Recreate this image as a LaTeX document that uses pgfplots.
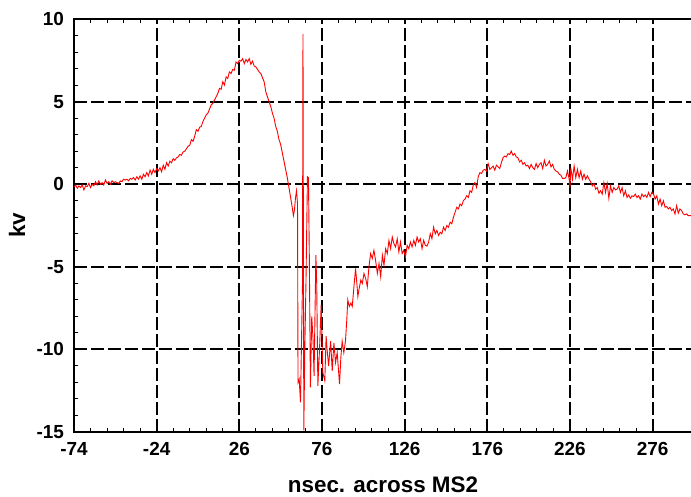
\documentclass[border=0pt]{standalone}
\usepackage{fontspec}
\setmainfont{Liberation Sans}
\usepackage{pgfplots}
\pgfplotsset{compat=1.18}

\begin{document}
\begin{tikzpicture}
\begin{axis}[
  scale only axis, width=618bp, height=413bp,
  xmin=-74, xmax=299.8, ymin=-15, ymax=10,
  xtick={-74,-24,26,76,126,176,226,276},
  ytick={-15,-10,-5,0,5,10},
  minor x tick num=4, minor y tick num=4,
  xtick pos=both, ytick pos=left,
  tick align=inside,
  major tick length=5bp, minor tick length=4bp,
  tick style={black, line width=1bp},
  axis line style={black, line width=2bp},
  grid=major,
  major grid style={black, line width=2bp, dash pattern=on 13bp off 4bp},
  /pgf/number format/assume math mode=true,
  ticklabel style={font=\fontsize{19}{19}\selectfont\bfseries},
  xticklabel style={yshift=-6.5bp},
  yticklabel style={xshift=-6.5bp},
  xlabel={nsec. across MS2}, ylabel={kv},
  label style={font=\fontsize{22.5}{22.5}\selectfont\bfseries},
  xlabel style={at={(axis description cs:0.5,-0.1465)}, anchor=base},
  ylabel style={at={(axis description cs:-0.0922,0.5)}, anchor=center},
]
\addplot[red, line width=0.9bp, mark=none] table {
x y
-74 -0.15
-73 -0.05
-72 -0.25
-71 -0.1
-70 -0.2
-69 -0.05
-68 -0.35
-67 -0.1
-66 -0.15
-65 0.05
-64 -0.2
-63 0.0
-62 -0.1
-61 0.15
-60 -0.05
-59 0.2
-58 0.0
-57 0.1
-56 -0.05
-55 0.25
-54 0.05
-53 0.15
-52 0.0
-51 0.2
-50 0.1
-49 0.15
-48 0.1
-47 0.05
-46 0.2
-45 0.15
-44 0.3
-43 0.25
-42 0.3
-41 0.2
-40 0.35
-39 0.3
-38 0.4
-37 0.25
-36 0.45
-35 0.3
-34 0.5
-33 0.3
-32 0.6
-31 0.45
-30 0.7
-29 0.5
-28 0.85
-27 0.6
-26 0.9
-25 0.7
-24 0.95
-23 0.8
-22 1.0
-21 0.75
-20 1.15
-19 0.9
-18 1.3
-17 1.1
-16 1.4
-15 1.3
-14 1.55
-13 1.45
-12 1.6
-11 1.65
-10 1.8
-9 1.75
-8 1.95
-7 2.0
-6 2.15
-5 2.3
-4 2.35
-3 2.7
-2 2.6
-1 2.9
0 3.3
1 3.2
2 3.45
3 3.5
4 3.8
5 4.0
6 4.2
7 4.3
8 4.55
9 4.8
10 4.9
11 5.1
12 5.3
13 5.5
14 5.8
15 5.75
16 6.2
17 6.0
18 6.5
19 6.4
20 6.8
21 6.7
22 6.95
23 6.9
24 7.4
25 7.3
26 7.5
27 7.45
28 7.6
29 7.3
30 7.55
31 7.4
32 7.6
33 7.25
34 7.45
35 7.15
36 7.1
37 6.95
38 6.8
39 6.7
40 6.45
41 6.2
42 5.6
43 5.3
44 5.0
45 4.7
46 4.3
47 4.0
48 3.5
49 3.2
50 2.7
51 2.4
52 1.9
53 1.4
54 0.9
55 0.4
56 -0.2
57 -0.8
58 -1.4
58.7 -1.9
59.3 -1.6
60 -0.8
60.6 -0.4
61.2 -1.2
61.5 -12.0
62.2 -11.8
63 -13.2
64.2 -6.0
64.5 9.1
65 -14.9
65.6 -10.0
66.3 -6.0
67.2 0.45
67.8 0.4
68.3 -4.0
69 -12.3
69.8 -8.0
70.6 -9.4
71.2 -11.6
72.3 -4.3
72.8 -6.0
73.5 -12.2
74.5 -10.0
75.5 -7.3
76.5 -11.4
77.7 -11.9
78.5 -9.2
79 -9.9
80 -11.0
81.2 -9.5
82.2 -11.3
83.2 -9.6
84.2 -10.8
85.2 -10.2
86.6 -12.1
87.4 -10.5
88.2 -9.5
89.2 -10.2
90.2 -9.5
91 -8.2
91.6 -7.0
92.5 -7.4
93.5 -7.2
94.3 -7.4
95.5 -6.0
96.3 -5.1
97 -5.9
97.7 -6.8
98.5 -6.3
99.5 -5.8
100.4 -6.0
101.4 -5.4
102.4 -5.7
103.4 -6.2
104.4 -5.0
105.4 -4.2
106.4 -4.5
107.4 -4.0
108.4 -4.6
109.5 -5.4
110.5 -4.8
111.5 -5.6
112.5 -4.3
113.5 -4.9
114.5 -3.9
115.5 -4.2
116.5 -3.4
117.5 -3.9
118.5 -3.2
119.5 -3.6
120.5 -3.8
121.5 -3.3
122.5 -4.1
123.5 -3.5
124.5 -4.2
125.5 -4.0
126.5 -4.4
127.5 -3.7
128.5 -3.9
129.5 -3.5
130.5 -3.8
131.5 -3.4
132.5 -3.7
133.5 -3.2
134.5 -3.5
135.5 -3.3
136.5 -3.9
137.5 -3.4
138.5 -3.7
139.5 -3.75
140.5 -3.5
141.5 -3.0
142.5 -3.3
143.5 -2.6
144.5 -3.0
145.5 -2.8
146.5 -3.1
147.5 -2.9
148.5 -3.0
149.5 -2.6
150.5 -2.8
151.5 -2.5
152.5 -2.6
153.5 -2.3
154.5 -2.4
155.5 -2.0
156.5 -1.7
157.5 -1.4
158.5 -1.5
159.5 -1.2
160.5 -1.3
161.5 -1.0
162.5 -0.9
163.5 -0.7
164.5 -0.8
165.5 -0.4
166.5 -0.5
167.5 -0.05
168.5 0.1
169.5 -0.2
170.5 0.45
171.5 0.7
172.5 0.65
173.5 0.85
174.5 0.9
175.5 0.8
176.5 1.25
177.5 0.9
178.5 1.0
179.5 1.1
180.5 0.85
181.5 1.15
182.5 1.05
183.5 0.95
184.5 1.3
185.5 1.6
186.5 1.7
187.5 1.65
188.5 1.85
189.5 1.8
190.5 2.0
191.5 1.75
192.5 1.85
193.5 1.65
194.5 1.6
195.5 1.35
196.5 1.45
197.5 1.2
198.5 1.3
199.5 1.1
200.5 1.15
201.5 0.95
202.5 1.2
203.5 1.0
204.5 0.9
205.5 1.25
206.5 1.0
207.5 1.2
208.5 1.3
209.5 0.95
210.5 1.45
211.5 1.1
212.5 1.2
213.5 1.4
214.5 1.05
215.5 1.2
216.5 0.9
217.5 0.8
218.5 0.75
219.5 0.6
220.5 0.55
221.5 0.35
222.5 0.35
223.5 0.4
224.5 0.8
225.5 0.3
226 -0.2
226.5 1.0
227.5 0.3
228.5 1.1
229.5 0.4
230.5 0.9
231.5 0.4
232.5 0.8
233.5 0.3
234.5 0.6
235.5 0.3
236.5 0.5
237.5 0.3
238.5 0.15
239.5 -0.1
240.5 0.05
241.5 -0.3
242.5 -0.2
243.5 -0.55
244.5 -0.4
245.5 -0.6
246.5 0.1
247.5 -0.5
248.5 0.05
249.5 -0.85
250.5 -0.1
251.5 -0.5
252.5 -0.2
253.5 -0.35
254.5 -0.3
255.5 -0.1
256.5 -0.5
257.5 -0.2
258.5 -0.7
259.5 -0.4
260.5 -0.8
261.5 -0.65
262.5 -0.85
263.5 -0.7
264.5 -0.75
265.5 -0.6
266.5 -0.8
267.5 -0.7
268.5 -0.9
269.5 -0.6
270.5 -0.75
271.5 -0.65
272.5 -0.8
273.5 -0.5
274.5 -0.75
275.5 -0.5
276.5 -0.6
277.5 -0.9
278.5 -0.7
279.5 -1.2
280.5 -0.9
281.5 -1.3
282.5 -1.0
283.5 -1.4
284.5 -1.35
285.5 -1.5
286.5 -1.4
287.5 -1.6
288.5 -1.5
289.5 -1.8
290.5 -1.3
291.5 -1.75
292.5 -1.5
293.5 -1.6
294.5 -1.8
295.5 -1.85
296.5 -1.8
297.5 -1.9
298.5 -1.9
299.5 -1.9
};
\end{axis}
\pgfresetboundingbox
\useasboundingbox (-74bp,-65bp) rectangle (617bp,432bp);
\end{tikzpicture}
\end{document}
